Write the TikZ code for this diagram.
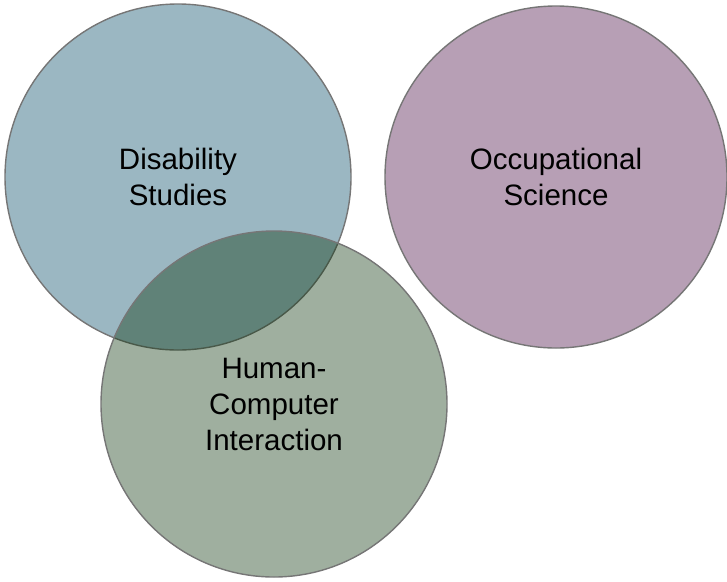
\documentclass[tikz,border=0pt]{standalone}
\usepackage{fontspec}
\setmainfont{Liberation Sans}
\usepackage{tikz}
\usetikzlibrary{calc}

\definecolor{dsblue}{RGB}{155,183,194}
\definecolor{ospurple}{RGB}{183,159,181}
\definecolor{hcigreen}{RGB}{2,44,2}
\definecolor{rimgray}{RGB}{118,118,118}

\begin{document}
\begin{tikzpicture}[x=1pt,y=1pt,
  venn/.style={draw=rimgray,circle,line width=1.4pt,minimum size=346pt,inner sep=0pt,
    align=center,font=\fontsize{29.5}{36}\selectfont,text=black}]
\useasboundingbox (0,0) rectangle (727,-581);

\draw node [venn,fill=dsblue](disab) at (178,-177){Disability\\Studies};
\draw node [venn,fill=ospurple,minimum size=342pt](occup) at (556,-177){Occupational\\Science};
\draw node [venn,fill=hcigreen,fill opacity=0.38,text opacity=1](hci) at (274,-404){Human-\\Computer\\Interaction};

\end{tikzpicture}
\end{document}
